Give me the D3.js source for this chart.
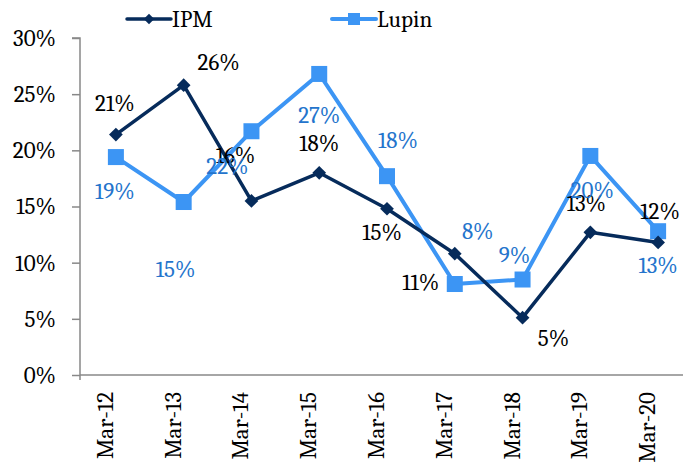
<!DOCTYPE html>
<html>
<head>
<meta charset="utf-8">
<script src="https://cdn.jsdelivr.net/npm/d3@7"></script>
<style>
  body { margin: 0; background: #fff; }
</style>
</head>
<body>
<div id="chart-area"></div>
<script>
// values
let categories = ["Mar-12", "Mar-13", "Mar-14", "Mar-15", "Mar-16", "Mar-17", "Mar-18", "Mar-19", "Mar-20"];
let ipm = [0.214, 0.258, 0.155, 0.180, 0.148, 0.108, 0.051, 0.127, 0.118];
let lupin = [0.194, 0.154, 0.217, 0.268, 0.177, 0.081, 0.085, 0.195, 0.128];
let ipmLabels = ["21%", "26%", "16%", "18%", "15%", "11%", "5%", "13%", "12%"];
let lupinLabels = ["19%", "15%", "22%", "27%", "18%", "8%", "9%", "20%", "13%"];
let yTicks = [0, 0.05, 0.10, 0.15, 0.20, 0.25, 0.30];

// label offsets from each point (dx, dy), as placed in the original
let ipmOffsets = [[-1, -32], [35, -23], [-16, -46], [0, -30], [-5, 23], [-34, 28], [31, 20], [-4, -29], [2, -31]];
let lupinOffsets = [[-1, 34], [-8, 67], [-24, 35], [0, 41], [11, -36], [23, -53], [-8, -25], [2, 34], [0, 34]];

const W = 683, H = 465;
const plotLeft = 80, plotBottom = 375, plotTop = 38;
const ipmColor = "#062b5b", lupinColor = "#3c95f4", lupinText = "#2474cc";
const font = '"Cambria", "Liberation Serif", serif';
const fs = 23;

let svg = d3.select("#chart-area").append("svg").attr("width", W).attr("height", H);

let x = d3.scaleBand().domain(categories).range([82, 692]);
let y = d3.scaleLinear().domain([0, 0.30]).range([plotBottom, plotTop]);
let cx = d => x(d) + x.bandwidth() / 2;

// y axis
let yAxis = svg.append("g").attr("transform", `translate(${plotLeft},0)`)
  .call(d3.axisLeft(y).tickValues(yTicks).tickFormat(d3.format(".0%")).tickSize(8).tickPadding(16));
yAxis.select(".domain").attr("stroke", "#888").attr("stroke-width", 1.5).attr("d", `M-8,${plotTop}H0V${plotBottom + 5}`);
yAxis.selectAll(".tick line").attr("stroke", "#888").attr("stroke-width", 1.5);
yAxis.selectAll(".tick text").attr("font-size", fs).attr("fill", "#000")
  .style("font-family", font);

// x axis line
svg.append("line").attr("x1", plotLeft).attr("x2", W).attr("y1", plotBottom).attr("y2", plotBottom)
  .attr("stroke", "#888").attr("stroke-width", 1.5);

svg.selectAll(".xlab").data(categories).enter()
  .append("text")
    .attr("class", "xlab")
    .attr("transform", d => `translate(${cx(d) - 3},${plotBottom + 17}) rotate(-90)`)
    .attr("text-anchor", "end")
    .attr("font-size", fs)
    .style("font-family", font)
    .text(d => d);

let line = d3.line().x((d, i) => cx(categories[i])).y(d => y(d));

// Lupin series
svg.append("path").datum(lupin).attr("d", line).attr("fill", "none")
  .attr("stroke", lupinColor).attr("stroke-width", 4).attr("stroke-linejoin", "round");
svg.selectAll(".lsq").data(lupin).enter()
  .append("rect")
    .attr("x", (d, i) => cx(categories[i]) - 8)
    .attr("y", d => y(d) - 8)
    .attr("width", 16).attr("height", 16)
    .attr("fill", lupinColor);

// IPM series
svg.append("path").datum(ipm).attr("d", line).attr("fill", "none")
  .attr("stroke", ipmColor).attr("stroke-width", 3.5).attr("stroke-linejoin", "round");
let diamond = d3.symbol().type(d3.symbolDiamond2).size(120);
svg.selectAll(".idm").data(ipm).enter()
  .append("path")
    .attr("d", diamond)
    .attr("transform", (d, i) => `translate(${cx(categories[i])},${y(d)})`)
    .attr("fill", ipmColor);

// data labels
svg.selectAll(".ilab").data(ipm).enter()
  .append("text")
    .attr("x", (d, i) => cx(categories[i]) + ipmOffsets[i][0])
    .attr("y", (d, i) => y(d) + ipmOffsets[i][1])
    .attr("text-anchor", "middle").attr("dy", "0.35em")
    .attr("font-size", fs).attr("fill", "#000")
    .style("font-family", font)
    .text((d, i) => ipmLabels[i]);

svg.selectAll(".llab").data(lupin).enter()
  .append("text")
    .attr("x", (d, i) => cx(categories[i]) + lupinOffsets[i][0])
    .attr("y", (d, i) => y(d) + lupinOffsets[i][1])
    .attr("text-anchor", "middle").attr("dy", "0.35em")
    .attr("font-size", fs).attr("fill", lupinText)
    .style("font-family", font)
    .text((d, i) => lupinLabels[i]);

// legend
let legend = [
  {name: "IPM", color: ipmColor, x: 127, sym: "diamond"},
  {name: "Lupin", color: lupinColor, x: 332, sym: "square"}
];
let lg = svg.selectAll(".leg").data(legend).enter().append("g")
  .attr("transform", d => `translate(${d.x},19)`);
lg.append("line").attr("x1", 0).attr("x2", 44).attr("stroke", d => d.color)
  .attr("stroke-width", d => d.sym == "square" ? 4 : 3.5).attr("stroke-linecap", "round");
lg.filter(d => d.sym == "diamond").append("path").attr("d", d3.symbol().type(d3.symbolDiamond2).size(70))
  .attr("transform", "translate(22,0)").attr("fill", ipmColor);
lg.filter(d => d.sym == "square").append("rect").attr("x", 16).attr("y", -6).attr("width", 12).attr("height", 12)
  .attr("fill", lupinColor);
lg.append("text").attr("x", 45).attr("dy", "0.35em").attr("font-size", fs)
  .style("font-family", font).text(d => d.name);
</script>
</body>
</html>
